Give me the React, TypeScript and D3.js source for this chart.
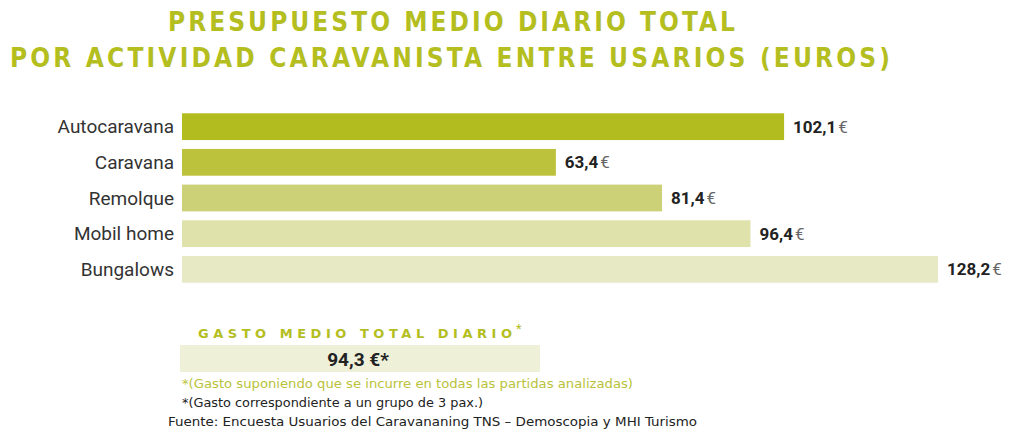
import { FC } from "react";
import * as d3 from "d3";

const categories = ["Autocaravana", "Caravana", "Remolque", "Mobil home", "Bungalows"];
const values = [102.1, 63.4, 81.4, 96.4, 128.2];
const barColors = ["#b2bc1f", "#bcc23b", "#ccd076", "#dfe2ab", "#e7e9c5"];
const titleLines = ["PRESUPUESTO MEDIO DIARIO TOTAL", "POR ACTIVIDAD CARAVANISTA ENTRE USARIOS (EUROS)"];
const totalLabel = "GASTO MEDIO TOTAL DIARIO";
const totalValue = "94,3";
const notes = [
  "*(Gasto suponiendo que se incurre en todas las partidas analizadas)",
  "*(Gasto correspondiente a un grupo de 3 pax.)",
  "Fuente: Encuesta Usuarios del Caravananing TNS – Demoscopia y MHI Turismo",
];

const green = "#b4be1f";
const width = 1009,
  height = 432;

const fmt = (v: number) => v.toFixed(1).replace(".", ",");

const App: FC = () => {
  const x = d3.scaleLinear().domain([0, 128.2]).range([182, 938]);
  const y = d3.scaleBand<string>().domain(categories).range([109, 287]).paddingInner(0.25).paddingOuter(0.12);

  return (
    <svg
      width={width}
      height={height}
      style={{ position: "absolute", left: 0, top: 0, background: "#fff" }}
    >
      <g fontFamily="'DejaVu Sans Condensed', 'DejaVu Sans', sans-serif" fontWeight="bold" fill={green}>
        <text x={168} y={31} fontSize={26} textLength={567} lengthAdjust="spacing">
          {titleLines[0]}
        </text>
        <text x={10} y={67} fontSize={26} textLength={880} lengthAdjust="spacing">
          {titleLines[1]}
        </text>
      </g>

      {categories.map((c, i) => (
        <g key={c}>
          <rect x={x(0)} y={y(c)} width={x(values[i]) - x(0)} height={y.bandwidth()} fill={barColors[i]} />
          <text
            x={174}
            y={(y(c) as number) + y.bandwidth() / 2}
            dy="0.35em"
            textAnchor="end"
            fontFamily="Roboto, sans-serif"
            fontSize={19}
            fill="#333"
          >
            {c}
          </text>
          <text
            x={x(values[i]) + 9}
            y={(y(c) as number) + y.bandwidth() / 2}
            dy="0.35em"
            fontFamily="Roboto, sans-serif"
            fontSize={17}
          >
            <tspan fontWeight="bold" fill="#222">{fmt(values[i])}</tspan>
            <tspan fill="#666" dx={2}>€</tspan>
          </text>
        </g>
      ))}

      <text
        x={198}
        y={338}
        fontFamily="'DejaVu Sans', sans-serif"
        fontWeight="bold"
        fontSize={13}
        fill={green}
        textLength={314}
        lengthAdjust="spacing"
      >
        {totalLabel}
      </text>
      <text x={516} y={333} fontFamily="Roboto, sans-serif" fontSize={13} fill={green}>
        *
      </text>
      <rect x={180} y={345} width={360} height={27} fill="#eef0d8" />
      <text
        x={358}
        y={359}
        dy="0.35em"
        textAnchor="middle"
        fontFamily="Roboto, sans-serif"
        fontWeight="bold"
        fontSize={19}
        fill="#222"
      >
        {totalValue} €*
      </text>

      <g fontFamily="'DejaVu Sans Condensed', 'DejaVu Sans', sans-serif" fontSize={12.5}>
        <text x={182} y={388} fill="#b9c23a" textLength={451} lengthAdjust="spacingAndGlyphs">
          {notes[0]}
        </text>
        <text x={182} y={407} fill="#222" textLength={301} lengthAdjust="spacingAndGlyphs">
          {notes[1]}
        </text>
        <text x={168} y={426} fill="#222" textLength={529} lengthAdjust="spacingAndGlyphs">
          {notes[2]}
        </text>
      </g>
    </svg>
  );
};

export default App;
